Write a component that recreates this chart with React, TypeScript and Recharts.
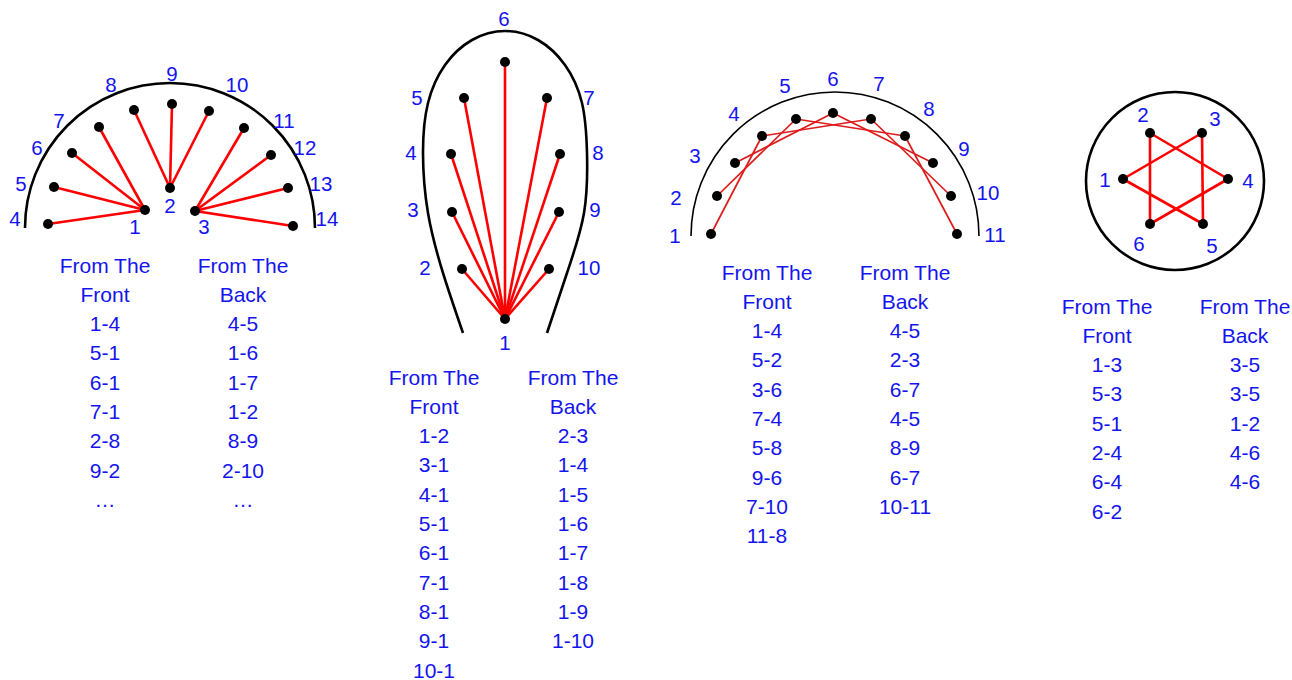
import React from 'react';
import { ComposedChart, XAxis, YAxis, Scatter, Line, ReferenceDot } from 'recharts';

const W = 1292;
const H = 680;
const BLUE = '#1414ee';
const FONT = '"Liberation Sans", Arial, Helvetica, sans-serif';

type P = [number, number];

// figure 1 - half circle with three pivots (nail n = index + 1)
const fanNails: P[] = [[145, 210], [170, 188], [195, 211], [48, 224], [54, 187], [72, 153], [99, 127], [134, 110], [172, 104], [209, 111], [244, 128], [271, 155], [288, 188], [293, 226]];
const fanLabels: P[] = [[135, 226], [170, 205], [204, 226], [15, 218], [21, 183], [37, 147], [59, 120], [111, 84], [172, 73], [237, 84], [284, 120], [305, 147], [321, 183], [327, 218]];
const fanThreads = ['1-4', '1-5', '1-6', '1-7', '2-8', '2-9', '2-10', '3-11', '3-12', '3-13', '3-14'];
const fanFront = ['1-4', '5-1', '6-1', '7-1', '2-8', '9-2', '…'];
const fanBack = ['4-5', '1-6', '1-7', '1-2', '8-9', '2-10', '…'];

// figure 2 - teardrop, everything to nail 1
const dropNails: P[] = [[505, 319], [462, 269], [452, 212], [451, 154], [464, 98], [505, 62], [547, 98], [560, 154], [559, 212], [549, 269]];
const dropLabels: P[] = [[505, 342], [425, 267], [413, 209], [411, 152], [417, 97], [504, 18], [589, 97], [598, 152], [595, 209], [589, 267]];
const dropOutline: P[] = [
  [463, 333], [443, 273], [428, 213], [423, 153], [428, 103], [445, 65], [472, 40], [505, 31],
  [538, 40], [565, 65], [582, 103], [587, 153], [584, 213], [567, 273], [547, 333],
];
const dropFront = ['1-2', '3-1', '4-1', '5-1', '6-1', '7-1', '8-1', '9-1', '10-1'];
const dropBack = ['2-3', '1-4', '1-5', '1-6', '1-7', '1-8', '1-9', '1-10'];

// figure 3 - arch
const archNails: P[] = [[711, 234], [717, 196], [735, 163], [762, 136], [796, 119], [833, 113], [871, 119], [905, 136], [933, 163], [951, 196], [957, 234]];
const archLabels: P[] = [[675, 235], [676, 197], [695, 155], [734, 113], [785, 85], [833, 78], [879, 83], [929, 108], [964, 148], [988, 192], [995, 234]];
const archFront = ['1-4', '5-2', '3-6', '7-4', '5-8', '9-6', '7-10', '11-8'];
const archBack = ['4-5', '2-3', '6-7', '4-5', '8-9', '6-7', '10-11'];

// figure 4 - star in a circle
const starNails: P[] = [[1123, 179], [1150, 133], [1202, 133], [1228, 179], [1203, 224], [1150, 224]];
const starLabels: P[] = [[1105, 179], [1143, 114], [1215, 118], [1248, 180], [1212, 245], [1139, 243]];
const starFront = ['1-3', '5-3', '5-1', '2-4', '6-4', '6-2'];
const starBack = ['3-5', '3-5', '1-2', '4-6', '4-6'];

// outlines: center + radius
const halfRings = [
  { x: 170, y: 228, r: 145, w: 2.6 },
  { x: 835, y: 236, r: 144, w: 1.6 },
];
const ring = { x: 1175, y: 181, r: 89 };

const STEP = 29.3;

const toPts = (pts: P[]) => pts.map(([x, y]) => ({ x, y }));
const toLabels = (pts: P[]) => pts.map(([x, y], i) => ({ x, y, label: String(i + 1) }));
const column = (x: number, top: number, head: string, rows: string[]) =>
  ['From The', head, ...rows].map((label, i) => ({ x, y: top + i * STEP, label }));
const threads = (pairs: string[], nails: P[]) =>
  pairs.map((s) => {
    const [a, b] = s.split('-').map(Number);
    return [{ x: nails[a - 1][0], y: nails[a - 1][1] }, { x: nails[b - 1][0], y: nails[b - 1][1] }];
  });

const textShape = (size: number) => (p: any) => (
  <text x={p.cx} y={p.cy} textAnchor="middle" dominantBaseline="central" fontSize={size} fontFamily={FONT} fill={BLUE}>
    {p.payload.label}
  </text>
);
const nailShape = (p: any) => <circle cx={p.cx} cy={p.cy} r={5} fill="#000" />;
const halfRingShape = (p: any) => (
  <path d={`M${p.cx - p.r},${p.cy} A${p.r},${p.r} 0 0 1 ${p.cx + p.r},${p.cy}`} fill="none" stroke="#000" strokeWidth={p.strokeWidth} />
);

const redThreads = [
  ...threads(fanThreads, fanNails).map((d) => ({ d, c: '#ff0000', w: 2.6 })),
  ...threads(dropFront, dropNails).map((d) => ({ d, c: '#ff0000', w: 2.6 })),
  ...threads(archFront, archNails).map((d) => ({ d, c: '#dd1c1c', w: 1.7 })),
  ...threads(starFront, starNails).map((d) => ({ d, c: '#ff0000', w: 2.6 })),
];

const allNails = [...toPts(fanNails), ...toPts(dropNails), ...toPts(archNails), ...toPts(starNails)];
const allNumbers = [...toLabels(fanLabels), ...toLabels(dropLabels), ...toLabels(archLabels), ...toLabels(starLabels)];
const allLists = [
  ...column(105, 265, 'Front', fanFront),
  ...column(243, 265, 'Back', fanBack),
  ...column(434, 377, 'Front', dropFront),
  ...column(573, 377, 'Back', dropBack),
  ...column(767, 272, 'Front', archFront),
  ...column(905, 272, 'Back', archBack),
  ...column(1107, 306, 'Front', starFront),
  ...column(1245, 306, 'Back', starBack),
];

export default function App() {
  return (
    <div style={{ position: 'absolute', left: 0, top: 0, width: W, height: H, background: '#fff' }}>
      <ComposedChart width={W} height={H} margin={{ top: 0, right: 0, bottom: 0, left: 0 }}>
        <XAxis type="number" dataKey="x" domain={[0, W]} hide allowDataOverflow />
        <YAxis type="number" dataKey="y" domain={[0, H]} reversed hide allowDataOverflow />

        {halfRings.map((h, i) => (
          <ReferenceDot key={`hr${i}`} x={h.x} y={h.y} r={h.r} strokeWidth={h.w} shape={halfRingShape} />
        ))}
        <ReferenceDot x={ring.x} y={ring.y} r={ring.r} fill="none" stroke="#000" strokeWidth={2.6} />

        <Line
          data={toPts(dropOutline)}
          dataKey="y"
          type="natural"
          stroke="#000"
          strokeWidth={2.6}
          dot={false}
          activeDot={false}
          isAnimationActive={false}
        />

        {redThreads.map((t, i) => (
          <Line
            key={`t${i}`}
            data={t.d}
            dataKey="y"
            type="linear"
            stroke={t.c}
            strokeWidth={t.w}
            dot={false}
            activeDot={false}
            isAnimationActive={false}
          />
        ))}

        <Scatter data={allNails} shape={nailShape} isAnimationActive={false} />
        <Scatter data={allNumbers} shape={textShape(20.5)} isAnimationActive={false} />
        <Scatter data={allLists} shape={textShape(21)} isAnimationActive={false} />
      </ComposedChart>
    </div>
  );
}
